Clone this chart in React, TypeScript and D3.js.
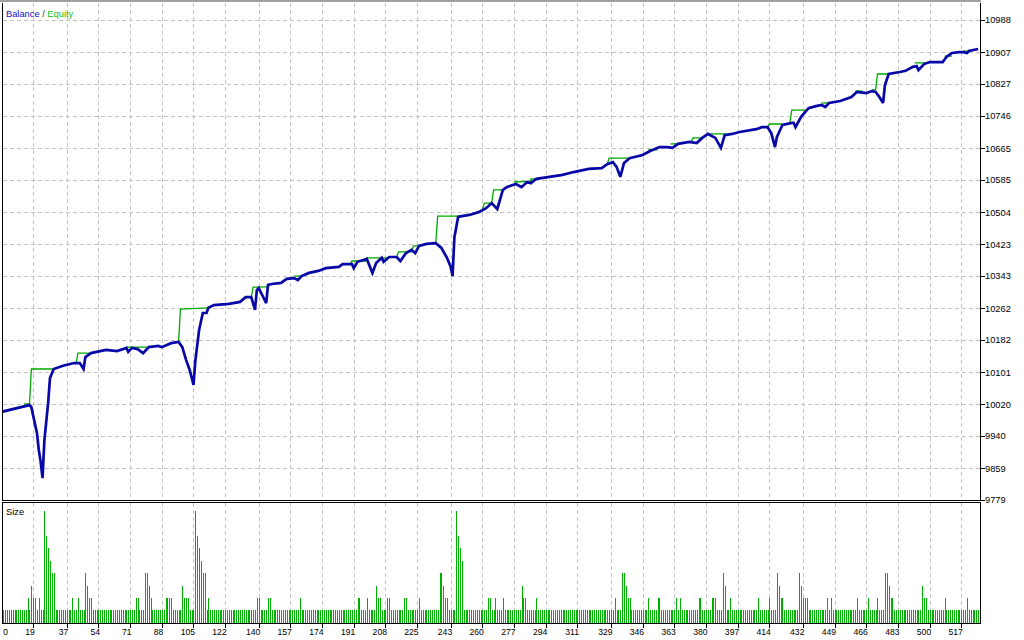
import * as d3 from "d3";

// trade index at the right edge of the chart
const tradeCount = 527;

// bottom axis labels (trade number)
const xTicks = [19, 37, 54, 71, 88, 105, 122, 140, 157, 174, 191, 208, 225, 243, 260, 277, 294, 311, 329, 346, 363, 380, 397, 414, 432, 449, 466, 483, 500, 517];

// right axis labels
const yTicks = [9779, 9859, 9940, 10020, 10101, 10182, 10262, 10343, 10423, 10504, 10585, 10665, 10746, 10827, 10907, 10988];

// blue line: [trade, value]
const balanceLine: [number, number][] = [
  [0, 9997], [2, 10001], [17, 10018], [18, 10013], [21, 9948], [22, 9905], [23, 9875], [24, 9834], [25, 9930],
  [27, 10023], [28, 10086], [30, 10109], [35, 10117], [41, 10124], [44, 10124], [46, 10109], [47, 10139],
  [50, 10149], [58, 10157], [64, 10154], [69, 10162], [70, 10152], [72, 10162], [75, 10159], [78, 10149],
  [81, 10164], [86, 10167], [88, 10164], [93, 10174], [97, 10177], [99, 10164], [101, 10132], [103, 10106],
  [105, 10069], [106, 10130], [108, 10207], [110, 10250], [112, 10250], [113, 10263], [116, 10270],
  [124, 10273], [130, 10278], [133, 10290], [136, 10290], [138, 10258], [139, 10308], [140, 10313],
  [144, 10275], [145, 10321], [147, 10323], [152, 10326], [155, 10336], [159, 10338], [161, 10333],
  [163, 10343], [167, 10351], [172, 10356], [176, 10363], [183, 10366], [185, 10373], [190, 10373],
  [191, 10363], [193, 10379], [198, 10386], [201, 10351], [203, 10376], [206, 10389], [207, 10379],
  [210, 10391], [214, 10391], [216, 10381], [219, 10401], [222, 10409], [224, 10401], [226, 10419],
  [230, 10424], [235, 10426], [238, 10414], [241, 10389], [243, 10366], [244, 10343], [245, 10441],
  [247, 10492], [249, 10494], [253, 10497], [258, 10504], [262, 10514], [265, 10527], [268, 10512],
  [271, 10560], [273, 10567], [278, 10575], [281, 10567], [284, 10580], [286, 10577], [289, 10588],
  [296, 10593], [303, 10598], [309, 10605], [317, 10613], [324, 10615], [327, 10625], [330, 10630],
  [332, 10618], [334, 10593], [336, 10628], [339, 10640], [346, 10648], [350, 10658], [355, 10668],
  [359, 10668], [362, 10666], [365, 10676], [371, 10681], [375, 10678], [378, 10691], [381, 10701],
  [385, 10691], [388, 10666], [390, 10698], [394, 10701], [398, 10706], [407, 10713], [410, 10718],
  [413, 10718], [415, 10703], [417, 10668], [418, 10693], [421, 10724], [426, 10729], [427, 10729],
  [428, 10718], [431, 10744], [435, 10766], [439, 10771], [442, 10774], [444, 10769], [446, 10779],
  [452, 10784], [458, 10794], [461, 10807], [466, 10804], [469, 10809], [471, 10807], [473, 10794],
  [475, 10779], [476, 10824], [478, 10852], [484, 10857], [487, 10860], [491, 10870], [493, 10872],
  [494, 10862], [497, 10877], [500, 10882], [507, 10882], [509, 10895], [512, 10905], [516, 10907],
  [518, 10907], [520, 10905], [521, 10910], [526, 10915],
];

// green line, only where it leaves the blue one
const equitySteps: [number, number][][] = [
  [[14, 10021], [17, 10021], [18, 10109], [30, 10109]],
  [[42, 10124], [43, 10149], [49, 10149]],
  [[69, 10164], [80, 10164]],
  [[97, 10177], [98, 10260], [113, 10263]],
  [[136, 10290], [137, 10315], [145, 10316]],
  [[159, 10343], [163, 10343]],
  [[189, 10373], [190, 10381], [198, 10381], [198, 10389], [209, 10389]],
  [[214, 10391], [215, 10404], [222, 10404], [223, 10419], [226, 10419]],
  [[235, 10426], [236, 10494], [249, 10494]],
  [[260, 10509], [261, 10527], [265, 10527], [266, 10560], [271, 10560]],
  [[277, 10580], [286, 10582], [286, 10588], [289, 10588]],
  [[327, 10625], [328, 10640], [339, 10640]],
  [[349, 10661], [354, 10661]],
  [[361, 10676], [365, 10676]],
  [[372, 10681], [373, 10691], [378, 10691], [381, 10701], [391, 10701]],
  [[413, 10718], [414, 10726], [421, 10726]],
  [[425, 10731], [426, 10761], [434, 10761]],
  [[442, 10779], [446, 10779]],
  [[460, 10809], [464, 10809]],
  [[469, 10812], [471, 10812], [472, 10852], [478, 10852]],
  [[492, 10880], [500, 10880]],
  [[508, 10897], [512, 10897]],
  [[518, 10910], [520, 10910]],
];

// lot size per trade: 1 unless listed here
const baseSize = 1;
const sizeSpikes: [number, number][] = [
  [16, 2], [18, 3], [19, 2], [20, 2], [22, 2], [25, 9], [26, 7], [27, 6], [28, 5], [29, 4], [30, 4],
  [40, 2], [43, 2], [47, 4], [48, 3], [49, 2], [50, 2], [74, 2], [75, 2], [79, 4], [80, 4], [81, 3], [82, 2],
  [90, 2], [91, 2], [92, 2], [93, 2], [99, 3], [100, 2], [101, 2], [102, 2], [106, 9], [107, 7], [108, 6],
  [109, 5], [110, 4], [111, 4], [113, 2], [139, 2], [140, 2], [145, 2], [146, 2], [162, 2], [193, 2],
  [194, 2], [198, 2], [203, 3], [204, 2], [205, 2], [209, 2], [210, 2], [218, 2], [219, 2], [226, 2],
  [237, 4], [238, 4], [239, 3], [240, 2], [241, 2], [246, 9], [247, 7], [248, 6], [249, 5], [263, 2],
  [264, 2], [267, 2], [271, 2], [281, 3], [282, 2], [283, 2], [289, 2], [331, 2], [335, 4], [336, 4],
  [337, 3], [338, 2], [339, 2], [349, 2], [354, 2], [355, 2], [364, 2], [366, 2], [376, 2], [377, 2],
  [383, 2], [384, 2], [385, 2], [389, 4], [390, 3], [393, 2], [408, 2], [414, 2], [418, 4], [419, 3],
  [420, 2], [421, 2], [430, 4], [431, 3], [432, 2], [433, 2], [434, 2], [445, 2], [447, 2], [461, 2],
  [467, 2], [472, 2], [476, 4], [477, 4], [478, 3], [479, 2], [480, 2], [496, 3], [497, 2], [498, 2],
  [508, 2], [520, 2],
];

const BLUE = "#0808a8";
const GREEN = "#00a800";
const BAR = "#00b000";
const GRID = "#c4c4c4";
const FONT = "'Liberation Sans', Arial, sans-serif";

export default function App() {
  const W = 1024;
  const H = 640;
  const L = 2.5;
  const R = 980.5;
  const mainBottom = 500.5;
  const subTop = 502.5;
  const subBottom = 623.5;

  const x = d3.scaleLinear().domain([0, tradeCount]).range([-2.2, 980]);
  const y = d3.scaleLinear().domain([9779, 10988]).range([500, 20]);
  const ySize = d3.scaleLinear().domain([0, 9]).range([623, 510.5]);

  const line = d3
    .line<[number, number]>()
    .x((d) => x(d[0]))
    .y((d) => y(d[1]));

  const spikeMap = new Map(sizeSpikes);
  const trades = d3.range(2, tradeCount);

  const px = (v: number) => Math.round(v) + 0.5;

  return (
    <svg
      width={W}
      height={H}
      style={{ position: "fixed", left: 0, top: 0, background: "#fff" }}
      fontFamily={FONT}
    >
      <defs>
        <clipPath id="mainClip">
          <rect x={3} y={3} width={977} height={497} />
        </clipPath>
        <clipPath id="subClip">
          <rect x={3} y={503} width={977} height={120} />
        </clipPath>
      </defs>

      <rect x={0} y={0} width={981} height={2} fill="#a0a0a0" />

      {/* grid */}
      <g stroke={GRID} strokeDasharray="4,3" shapeRendering="crispEdges">
        {yTicks.slice(1).map((t) => (
          <line key={"h" + t} x1={L} x2={R} y1={px(y(t))} y2={px(y(t))} />
        ))}
        {xTicks.map((t) => (
          <line key={"v" + t} x1={px(x(t))} x2={px(x(t))} y1={3} y2={mainBottom} />
        ))}
        {xTicks.map((t) => (
          <line key={"s" + t} x1={px(x(t))} x2={px(x(t))} y1={subTop} y2={subBottom} />
        ))}
      </g>

      {/* lines */}
      <g clipPath="url(#mainClip)" fill="none">
        {equitySteps.map((seg, i) => (
          <path key={i} d={line(seg) || ""} stroke={GREEN} strokeWidth={1.3} />
        ))}
        <path d={line(balanceLine) || ""} stroke={BLUE} strokeWidth={2.7} strokeLinejoin="miter" strokeMiterlimit={3} />
      </g>

      {/* size bars */}
      <g clipPath="url(#subClip)" fill={BAR} shapeRendering="crispEdges">
        {trades.map((i) => {
          const s = spikeMap.get(i) ?? baseSize;
          const top = Math.round(ySize(s));
          return <rect key={i} x={Math.round(x(i))} y={top} width={1} height={623 - top} />;
        })}
      </g>

      {/* frames */}
      <g stroke="#000" fill="none" shapeRendering="crispEdges">
        <polyline points={`${L},3 ${L},${mainBottom} ${R},${mainBottom} ${R},3`} />
        <rect x={L} y={subTop} width={R - L} height={subBottom - subTop} />
        {yTicks.map((t) => (
          <line key={"yt" + t} x1={R} x2={R + 4} y1={px(y(t))} y2={px(y(t))} />
        ))}
        {xTicks.map((t) => (
          <line key={"xt" + t} x1={px(x(t))} x2={px(x(t))} y1={subBottom} y2={subBottom + 4} />
        ))}
      </g>

      {/* right axis labels */}
      <g fontSize={9.3} fill="#000">
        {yTicks.map((t) => (
          <text key={t} x={985} y={y(t) + 3.4}>
            {t}
          </text>
        ))}
      </g>

      {/* bottom axis labels */}
      <g fontSize={8.6} fill="#000" textAnchor="end">
        <text x={8} y={635}>0</text>
        {xTicks.map((t) => (
          <text key={t} x={x(t) + 1.5} y={635}>
            {t}
          </text>
        ))}
      </g>

      <text x={6} y={17} fontSize={9.3}>
        <tspan fill="#1010c8">Balance</tspan>
        <tspan fill="#333"> / </tspan>
        <tspan fill="#10c010">Equity</tspan>
      </text>
      <text x={6} y={515} fontSize={9.3} fill="#000">
        Size
      </text>
    </svg>
  );
}
